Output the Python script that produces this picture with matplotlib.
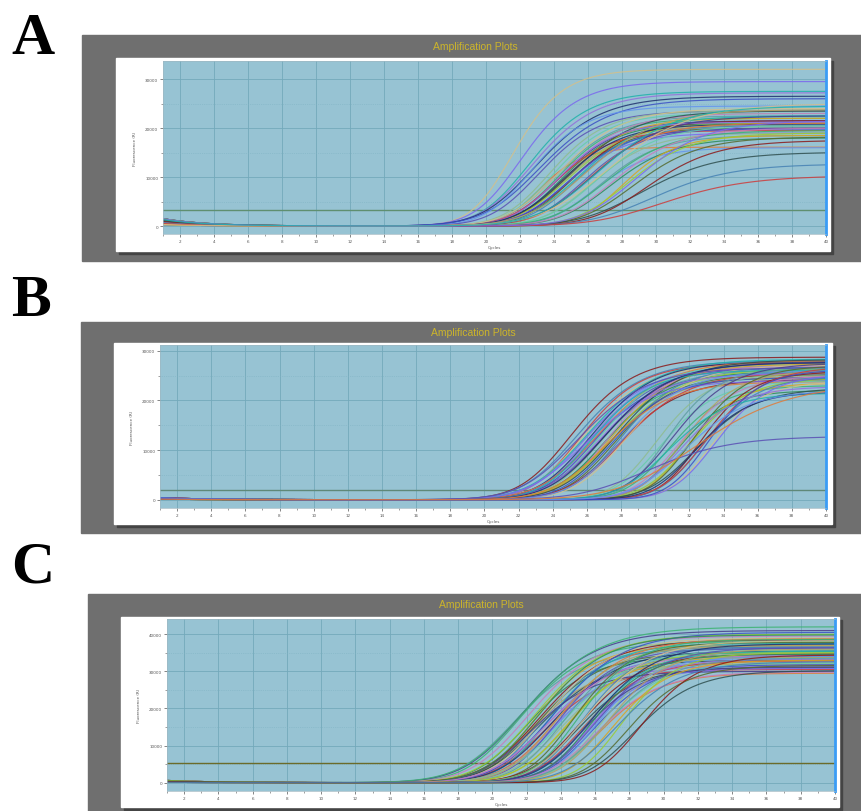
import numpy as np
import matplotlib.pyplot as plt
from matplotlib.patches import Rectangle
from matplotlib.ticker import MultipleLocator

W, H = 861, 812
NU = 2.0  # asymmetry of the amplification curves

cycles = np.arange(1, 40.001, 0.1)

# panel A: half-height cycle, plateau, width of every curve
a_mid = [21.8, 22.3, 22.8, 23.0, 23.2, 23.5, 22.9, 23.4, 23.3,
         24.0, 24.2, 24.4, 24.5, 24.6, 24.7, 24.8, 24.9, 25.0, 25.1, 25.2,
         25.3, 25.4, 25.6, 24.3, 24.6, 25.0, 25.8, 24.5, 24.8, 25.1, 26.6,
         26.0, 26.3, 26.5, 26.8, 27.0, 27.3, 26.6, 27.6, 27.8, 26.2,
         28.3, 28.6, 29.0, 29.5, 29.8, 30.2, 30.8, 27.5, 29.2, 27.0]
a_top = [32000, 29500, 27500, 27200, 26500, 26000, 24500, 23500, 16100,
         23500, 23000, 22500, 22000, 21500, 21000, 23000, 20500, 22000, 21000, 20000,
         23500, 21500, 20500, 19500, 24000, 19000, 22500, 21200, 20800, 19800, 16000,
         20000, 21000, 19000, 20500, 18500, 19500, 22500, 18000, 20000, 23800,
         18500, 19000, 18200, 15100, 17500, 12700, 10300, 25000, 21500, 24500]
a_wid = [1.6, 1.8, 1.9, 2.0, 2.1, 2.2, 1.8, 1.9, 1.4,
         1.8, 1.8, 1.9, 1.8, 1.9, 1.8, 2.0, 1.9, 1.9, 2.0, 1.8,
         2.1, 2.0, 1.9, 1.8, 2.0, 1.9, 2.1, 1.8, 1.9, 1.9, 1.8,
         1.9, 2.0, 1.9, 2.0, 1.9, 2.1, 2.2, 2.0, 2.1, 2.3,
         1.7, 2.0, 2.1, 2.4, 2.2, 2.5, 2.7, 2.6, 2.2, 2.4]
a_start = [1500, 1300, 1100, 900, 700, 500, 300]

# panel B
b_mid = [25.4, 25.7, 25.9, 26.0, 26.2, 26.3, 26.4, 26.5, 26.6, 26.7,
         26.8, 26.9, 27.0, 27.0, 27.1, 27.2, 27.3, 27.4, 27.5, 27.6,
         27.7, 27.8, 27.9, 28.0, 28.1, 28.2, 28.4, 28.6, 26.1, 26.5,
         26.9, 27.3, 27.7, 28.3, 25.8, 27.4,
         30.3, 30.6, 30.9, 31.1, 31.3, 31.5, 31.7, 31.9, 32.1, 32.3,
         32.5, 32.7, 32.9, 33.1, 33.3, 33.5, 33.8, 31.0, 31.8, 32.6,
         33.4, 32.0, 29.9, 32.8]
b_top = [28700, 28000, 27500, 27200, 26800, 28300, 26000, 27800, 25500, 27000,
         26500, 28000, 25000, 27400, 26200, 24500, 27700, 25800, 26900, 24800,
         27300, 26400, 25200, 28200, 24200, 26700, 25600, 27100, 24000, 26100,
         25400, 27600, 24600, 25900, 26600, 23800,
         25500, 24000, 26500, 23000, 27500, 22000, 25000, 26000, 23500, 24500,
         27000, 22500, 25800, 24800, 26800, 23800, 25300, 21500, 22800, 21800,
         26200, 22000, 12800, 23500]
b_wid = [2.0, 2.1, 1.9, 2.0, 2.1, 2.2, 1.9, 2.0, 2.1, 1.9,
         2.0, 2.2, 1.9, 2.0, 2.1, 1.9, 2.2, 2.0, 1.9, 2.1,
         2.0, 2.2, 1.9, 2.1, 2.0, 1.9, 2.1, 2.0, 2.2, 1.9,
         2.0, 2.1, 1.9, 2.0, 2.2, 2.1,
         1.7, 1.8, 1.6, 1.7, 1.9, 1.6, 1.8, 1.7, 1.6, 1.8,
         1.7, 1.9, 1.6, 1.7, 1.8, 1.6, 1.7, 1.9, 1.8, 1.7,
         1.6, 2.0, 2.6, 3.0]
b_start = [400, 300, 200, 100]

# panel C
c_mid = [21.6, 21.9, 22.1, 22.3, 22.4, 22.6, 22.7, 22.8, 22.9, 23.0,
         23.1, 23.2, 23.3, 23.4, 23.5, 23.6, 23.7, 23.8, 23.9, 24.0,
         24.1, 24.2, 24.3, 24.4, 24.5, 22.2, 22.5, 23.0, 23.5, 24.0,
         24.6, 24.8, 25.0, 25.2, 25.4, 25.5, 25.6, 25.7, 25.8, 25.9,
         26.0, 26.1, 26.2, 26.3, 26.4, 26.5, 26.6, 26.7, 26.8, 25.3,
         25.6, 26.0, 26.4, 27.0, 27.3, 27.8, 28.2, 28.6, 29.0, 27.5]
c_top = [36000, 38000, 41000, 34000, 39500, 32000, 37000, 40000, 35000, 33000,
         38500, 36500, 30500, 39000, 34500, 37500, 31500, 35500, 40500, 33500,
         36200, 38800, 32500, 35800, 37200, 42000, 30000, 39800, 34200, 36800,
         33800, 35200, 37800, 31000, 34800, 36600, 32800, 38200, 30800, 35400,
         33200, 37400, 31800, 34000, 36400, 29500, 35000, 32200, 33600, 38600,
         31200, 34600, 29800, 36000, 33000, 35000, 31600, 30200, 34400, 32600]
c_wid = [2.2, 2.1, 2.3, 2.0, 2.2, 2.1, 1.9, 2.2, 2.0, 2.1,
         2.2, 1.9, 2.0, 2.1, 2.2, 1.9, 2.0, 2.1, 2.2, 2.0,
         1.9, 2.1, 2.0, 2.2, 1.9, 2.4, 2.0, 2.1, 2.2, 1.9,
         1.9, 2.0, 1.8, 1.9, 2.0, 1.8, 1.9, 2.0, 1.8, 1.9,
         1.8, 2.0, 1.9, 1.8, 2.0, 1.9, 1.8, 1.9, 2.0, 1.8,
         1.9, 1.8, 2.0, 1.9, 1.8, 1.7, 1.8, 1.9, 1.8, 2.0]
c_start = [600, 450, 300, 200, 100]

colors = ['#d2c08c', '#5a4fb4', '#2e8b57', '#8b1a1a', '#1f2f6e', '#5f9ea0',
          '#9acd32', '#7b68ee', '#e07b39', '#c77dbb', '#4682b4', '#3b4fc4',
          '#3cb371', '#556b2f', '#20b2aa', '#8fbc8f', '#b8a060', '#cd3c3c',
          '#6495ed', '#483d8b', '#2f4f4f', '#9370db', '#66cdaa', '#daa520']


def curve(mid, top, wid, start, decay):
    z0 = -np.log(2 ** (1 / NU) - 1)
    z = z0 + (cycles - mid) / wid
    return top * (1 + np.exp(-z)) ** (-NU) + start * np.exp(-(cycles - 1) / decay)


def rect(fig, x0, y0, x1, y1, color, z):
    fig.add_artist(Rectangle((x0 / W, 1 - y1 / H), (x1 - x0) / W, (y1 - y0) / H,
                             transform=fig.transFigure, color=color, zorder=z))


fig = plt.figure(figsize=(W / 100, H / 100), dpi=100, facecolor='white')


def panel(letter, lbl_y, frame, white, plot, title_xy, ylim, ymax, mids, tops, wids,
          starts, decay, thr, thr_color, shift):
    rect(fig, *frame, '#6f6f6f', -3)
    wx0, wy0, wx1, wy1 = white
    rect(fig, wx0 + 3, wy0 + 3, wx1 + 3, wy1 + 3, '#444444', -2)
    rect(fig, *white, 'white', -1)
    fig.text(title_xy[0] / W, 1 - title_xy[1] / H, 'Amplification Plots', ha='center',
             va='center', fontsize=7.5, color='#cdb52a', family='Liberation Sans')
    fig.text(11 / W, 1 - lbl_y / H, letter, fontsize=43, fontweight='bold',
             family='Liberation Serif', va='baseline')

    x0, y0, x1, y1 = plot
    ax = fig.add_axes([x0 / W, 1 - y1 / H, (x1 - x0) / W, (y1 - y0) / H])
    ax.set_facecolor('#97c3d3')
    ax.set_xlim(1, 40)
    ax.set_ylim(*ylim)
    ax.xaxis.set_major_locator(MultipleLocator(2))
    ax.xaxis.set_minor_locator(MultipleLocator(1))
    ax.set_yticks(np.arange(0, ymax + 1, 10000))
    ax.yaxis.set_minor_locator(MultipleLocator(5000))
    ax.grid(True, which='major', color='#74a9bb', lw=0.6)
    ax.grid(True, which='minor', axis='y', color='#80b3c4', lw=0.5, ls=':')
    ax.set_axisbelow(True)
    ax.tick_params(labelsize=3, colors='#555555', length=2, width=0.5, pad=1.5)
    ax.tick_params(which='minor', length=1.2, width=0.4, colors='#555555')
    for s in ['top', 'left', 'bottom']:
        ax.spines[s].set_color('#9fb8c2')
        ax.spines[s].set_linewidth(0.5)
    ax.spines['right'].set_color('#3a9cf5')
    ax.spines['right'].set_linewidth(2)
    ax.set_xlabel('Cycles', fontsize=3, color='#555555', labelpad=1.5)
    ax.set_ylabel('Fluorescence (R)', fontsize=3, color='#555555', labelpad=6)

    ax.axhline(thr, color=thr_color, lw=1.0, zorder=1)
    for i, (m, t, w) in enumerate(zip(mids, tops, wids)):
        y = curve(m, t, w, starts[i % len(starts)], decay)
        ax.plot(cycles, y, color=colors[(i * 7 + shift) % len(colors)], lw=0.85, alpha=0.85)


panel('A', 54, (82, 36, 861, 262), (116, 59, 830, 252), (163, 62, 826, 235), (475, 47),
      (-1630, 33700), 30000, a_mid, a_top, a_wid, a_start, 2.5, 3260, '#5f8f70', 0)
panel('B', 316, (81, 323, 861, 534), (114, 344, 832, 525), (160, 346, 826, 509), (473, 333),
      (-1670, 31150), 30000, b_mid, b_top, b_wid, b_start, 3.0, 1950, '#5f8878', 3)
panel('C', 583, (88, 595, 861, 812), (121, 618, 839, 808), (167, 620, 835, 792), (481, 605),
      (-2240, 44100), 40000, c_mid, c_top, c_wid, c_start, 3.0, 5230, '#6b6b2a', 5)

fig.savefig('out.png', dpi=100, facecolor='white')
